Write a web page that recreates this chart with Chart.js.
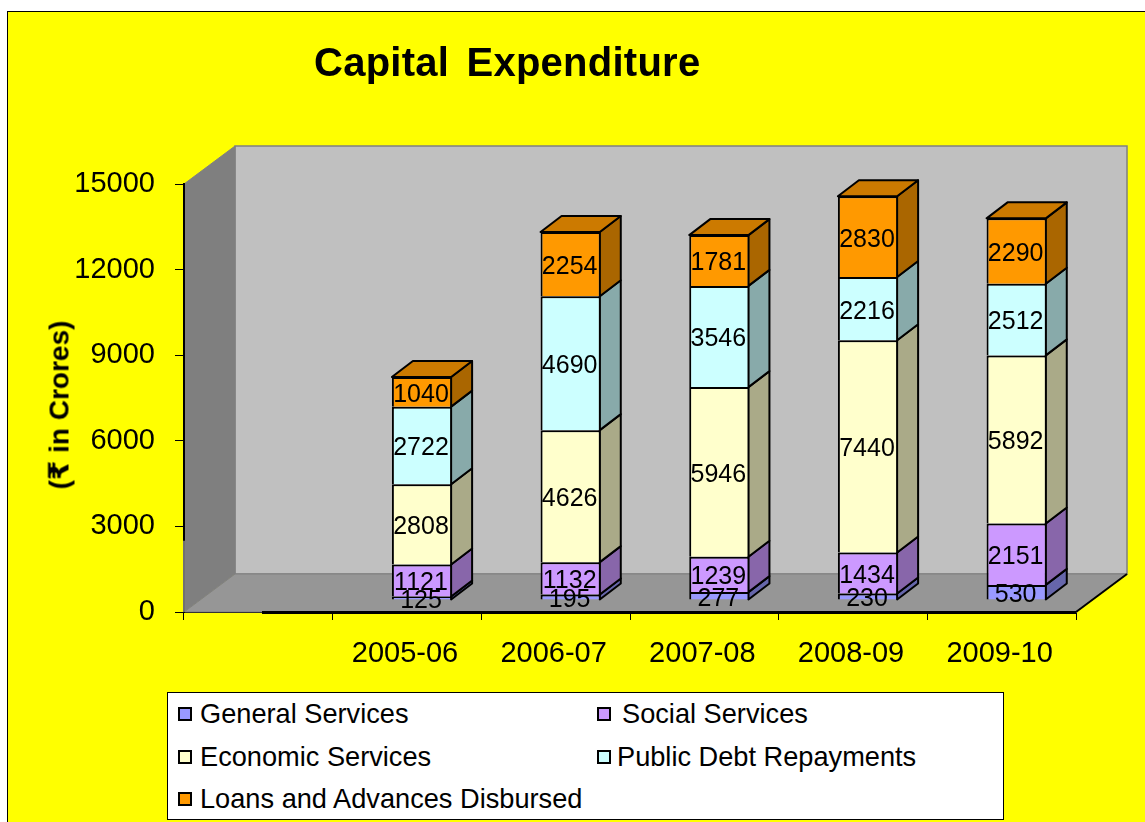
<!DOCTYPE html>
<html>
<head>
    <meta charset="UTF-8" />
    <title>Capital Expenditure</title>
    <script src="https://cdn.jsdelivr.net/npm/chart.js@4"></script>
    <style>
        html, body { margin: 0; padding: 0; width: 1145px; height: 822px; overflow: hidden; background: #fff; }
        body, #legend { font-family: "Liberation Sans", "DejaVu Sans", sans-serif; color: #000; }
        #panel { position: absolute; left: 7px; top: 11px; width: 1150px; height: 820px; background: #ffff00; border: 1px solid #000; }
        #chart { position: absolute; left: 0; top: 0; }
        #title { position: absolute; left: 314px; top: 39px; font-size: 40px; font-weight: bold; white-space: pre; line-height: 46px; letter-spacing: 0.25px; word-spacing: 6px; }
        #yTitle { position: absolute; left: 59px; top: 405px; font-size: 28px; font-weight: bold; white-space: pre; transform: translate(-50%, -50%) rotate(-90deg); }
        #legend { position: absolute; left: 167px; top: 692px; width: 835px; height: 126px; background: #fff; border: 1px solid #000; font-size: 27.2px; }
        .item { position: absolute; white-space: pre; line-height: 30px; }
        .swatch { position: absolute; left: 0; top: 8px; width: 10px; height: 10px; border: 2px solid #000; }
        .item span { position: absolute; left: 22px; top: 0; }
    </style>
</head>

<body>
    <div id="panel"></div>
    <canvas id="chart" width="1145" height="822"></canvas>
    <div id="title">Capital Expenditure</div>
    <div id="yTitle">(₹ in Crores)</div>
    <div id="legend"></div>

    <script type="text/javascript">
        const categories = ['', '2005-06', '2006-07', '2007-08', '2008-09', '2009-10'];
        const seriesNames = ['General Services', 'Social Services', 'Economic Services', 'Public Debt Repayments', 'Loans and Advances Disbursed'];
        const generalServices = [null, 125, 195, 277, 230, 530];
        const socialServices = [null, 1121, 1132, 1239, 1434, 2151];
        const economicServices = [null, 2808, 4626, 5946, 7440, 5892];
        const publicDebt = [null, 2722, 4690, 3546, 2216, 2512];
        const loansAdvances = [null, 1040, 2254, 1781, 2830, 2290];
        const seriesColors = ['#9999ff', '#cc99ff', '#ffffcc', '#ccffff', '#ff9900'];

        // offset of the box fronts from the axis plane, and the depth of each box
        const barShift = { x: 15, y: -12 };
        const barDepth = { x: 21, y: -16 };
        // depth of the whole floor and walls
        const wallDepth = { x: 51, y: -38 };

        function shade(hex, factor) {
            const n = parseInt(hex.slice(1), 16);
            const r = Math.round((n >> 16 & 255) * factor);
            const g = Math.round((n >> 8 & 255) * factor);
            const b = Math.round((n & 255) * factor);
            return `rgb(${r}, ${g}, ${b})`;
        }

        function polygon(ctx, points, fill, stroke, lineWidth) {
            ctx.beginPath();
            points.forEach((p, i) => i ? ctx.lineTo(p[0], p[1]) : ctx.moveTo(p[0], p[1]));
            ctx.closePath();
            if (fill) {
                ctx.fillStyle = fill;
                ctx.fill();
            }
            if (stroke) {
                ctx.strokeStyle = stroke;
                ctx.lineWidth = lineWidth;
                ctx.stroke();
            }
        }

        // back wall, side wall and floor behind the bars
        const wallsPlugin = {
            id: 'walls',
            beforeDraw(chart) {
                const { ctx, chartArea: a } = chart;
                const dx = wallDepth.x, dy = wallDepth.y;
                ctx.save();
                polygon(ctx, [[a.left + dx, a.top + dy], [a.right + dx, a.top + dy], [a.right + dx, a.bottom + dy], [a.left + dx, a.bottom + dy]], '#c0c0c0', '#808080', 1.5);
                polygon(ctx, [[a.left, a.top], [a.left + dx, a.top + dy], [a.left + dx, a.bottom + dy], [a.left, a.bottom]], '#7f7f7f', '#808080', 1);
                polygon(ctx, [[a.left, a.bottom], [a.left + dx, a.bottom + dy], [a.right + dx, a.bottom + dy], [a.right, a.bottom]], '#969696', '#808080', 1);
                ctx.beginPath();
                ctx.moveTo(a.right, a.bottom);
                ctx.lineTo(a.right + dx, a.bottom + dy);
                ctx.strokeStyle = '#000';
                ctx.lineWidth = 2;
                ctx.stroke();
                ctx.restore();
            },
            beforeDatasetsDraw(chart) {
                const { ctx, chartArea: a } = chart;
                ctx.save();
                // heavier front edge of the floor
                ctx.beginPath();
                ctx.moveTo(a.left + 78, a.bottom + 0.5);
                ctx.lineTo(a.right, a.bottom + 0.5);
                ctx.strokeStyle = '#000';
                ctx.lineWidth = 3;
                ctx.stroke();

                // lower end of the value axis fades into the wall
                ctx.beginPath();
                ctx.moveTo(a.left, chart.scales.y.getPixelForValue(2500));
                ctx.lineTo(a.left, a.bottom);
                ctx.strokeStyle = '#707070';
                ctx.lineWidth = 2;
                ctx.stroke();

                // the top and right faces of every box, the fronts follow from Chart.js
                ctx.lineJoin = 'round';
                chart.data.datasets.forEach((ds, i) => {
                    chart.getDatasetMeta(i).data.forEach((bar, j) => {
                        if (ds.data[j] == null) return;
                        const r = bar.x + bar.width / 2 + barShift.x - 1;
                        const l = bar.x - bar.width / 2 + barShift.x;
                        const t = bar.y + barShift.y;
                        const b = bar.base + barShift.y;
                        const dx = barDepth.x, dy = barDepth.y;
                        polygon(ctx, [[r, t], [r + dx, t + dy], [r + dx, b + dy], [r, b]], shade(seriesColors[i], 2 / 3), '#000', 2);
                        if (i === chart.data.datasets.length - 1) {
                            polygon(ctx, [[l, t], [l + dx, t + dy], [r + dx, t + dy], [r, t]], shade(seriesColors[i], 0.8), '#000', 2);
                        }
                    });
                });
                ctx.restore();

                ctx.save();
                ctx.translate(barShift.x, barShift.y);
            },
            afterDatasetsDraw(chart) {
                const { ctx } = chart;
                ctx.restore();

                // value labels in the middle of each segment
                ctx.save();
                ctx.font = '25px "Liberation Sans"';
                ctx.fillStyle = '#000';
                ctx.textAlign = 'center';
                ctx.textBaseline = 'middle';
                chart.data.datasets.forEach((ds, i) => {
                    chart.getDatasetMeta(i).data.forEach((bar, j) => {
                        if (ds.data[j] == null) return;
                        ctx.fillText(String(ds.data[j]), bar.x + barShift.x - 1, (bar.y + bar.base) / 2 + barShift.y + 3);
                    });
                });
                ctx.restore();
            }
        };

        function initChart() {
            const values = [generalServices, socialServices, economicServices, publicDebt, loansAdvances];
            const ctx = document.getElementById('chart').getContext('2d');
            new Chart(ctx, {
                type: 'bar',
                data: {
                    labels: categories,
                    datasets: seriesNames.map((name, i) => ({
                        label: name,
                        data: values[i],
                        backgroundColor: seriesColors[i],
                        borderColor: '#000',
                        borderWidth: 2,
                        categoryPercentage: 1,
                        barPercentage: 0.405
                    }))
                },
                plugins: [wallsPlugin],
                options: {
                    responsive: false,
                    animation: false,
                    layout: { padding: { left: 0, top: 184, right: 69, bottom: 0 } },
                    plugins: {
                        legend: { display: false },
                        title: { display: false },
                        tooltip: { enabled: false }
                    },
                    scales: {
                        x: {
                            stacked: true,
                            afterFit(scale) { scale.height = 210; },
                            border: { color: '#333', width: 1 },
                            grid: { drawOnChartArea: false, offset: true, tickLength: 8, tickColor: '#000', tickWidth: 1 },
                            ticks: {
                                color: '#000',
                                font: { family: '"Liberation Sans"', size: 29 },
                                padding: 17,
                                labelOffset: -2,
                                maxRotation: 0,
                                autoSkip: false
                            }
                        },
                        y: {
                            stacked: true,
                            min: 0,
                            max: 15000,
                            afterFit(scale) { scale.width = 184; },
                            border: { color: '#000', width: 2 },
                            grid: { drawOnChartArea: false, tickLength: 9, tickColor: '#000', tickWidth: 1 },
                            ticks: {
                                stepSize: 3000,
                                color: '#000',
                                font: { family: '"Liberation Sans"', size: 29 },
                                padding: 20,
                                callback: (value) => String(value)
                            }
                        }
                    }
                }
            });
        }

        function buildLegend() {
            const legend = document.getElementById('legend');
            const lefts = [10, 429, 10, 429, 10];
            const tops = [6, 6, 49, 49, 91];
            const textLefts = [22, 25, 22, 20, 22];
            seriesNames.forEach((name, i) => {
                const item = document.createElement('div');
                item.className = 'item';
                item.style.left = lefts[i] + 'px';
                item.style.top = tops[i] + 'px';
                const swatch = document.createElement('div');
                swatch.className = 'swatch';
                swatch.style.background = seriesColors[i];
                const text = document.createElement('span');
                text.style.left = textLefts[i] + 'px';
                text.textContent = name;
                item.appendChild(swatch);
                item.appendChild(text);
                legend.appendChild(item);
            });
        }

        window.onload = function () {
            buildLegend();
            initChart();
        };
    </script>
</body>
</html>
